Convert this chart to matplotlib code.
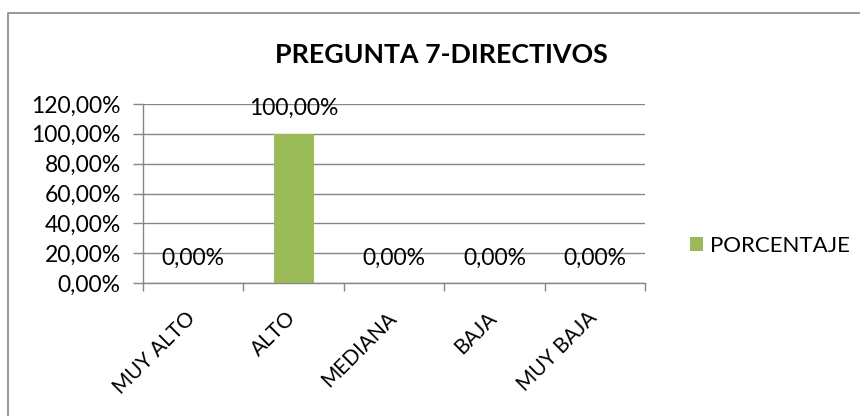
import matplotlib
matplotlib.use("Agg")
import matplotlib.pyplot as plt
from matplotlib.lines import Line2D
from matplotlib.transforms import ScaledTranslation
from matplotlib.ticker import FuncFormatter

categories = ["MUY ALTO", "ALTO", "MEDIANA", "BAJA", "MUY BAJA"]
values = [0.0, 100.0, 0.0, 0.0, 0.0]
series_name = "PORCENTAJE"
title = "PREGUNTA 7-DIRECTIVOS"
yticks = [0, 20, 40, 60, 80, 100, 120]

FONT = ["Lato", "DejaVu Sans"]
plt.rcParams["font.family"] = FONT

W, H = 860, 416
fig = plt.figure(figsize=(W / 100, H / 100), dpi=100)
fig.patch.set_facecolor("white")

# outer chart frame (left and top edges visible)
fx, fy = 7.5 / W, 1 - 12.5 / H
fig.add_artist(Line2D([fx, fx, 1.0], [0.0, fy, fy], transform=fig.transFigure,
                      color="#878787", linewidth=1.2))

ax = fig.add_axes([143 / W, 1 - 283 / H, (645 - 143) / W, (283 - 104) / H])
x = list(range(len(categories)))
green = "#9BBB59"
bars = ax.bar(x, values, width=0.4, color=green, label=series_name, zorder=3)

FS = 16.5
ax.set_xlim(-0.5, len(categories) - 0.5)
ax.set_ylim(0, 120)
ax.set_yticks(yticks)
ax.yaxis.set_major_formatter(FuncFormatter(lambda v, p: f"{v:.2f}%".replace(".", ",")))
ax.yaxis.grid(True, color="#868686", linewidth=1, zorder=0)
ax.set_axisbelow(True)

ax.set_xticks(x)
ax.set_xticklabels(categories, rotation=45, ha="right", rotation_mode="anchor",
                   fontsize=15)
ax.tick_params(axis="x", which="major", length=0, pad=18)
off = ScaledTranslation(-8 / 100, 0, fig.dpi_scale_trans)
for lab in ax.get_xticklabels():
    lab.set_transform(lab.get_transform() + off)
ax.set_xticks([i - 0.5 for i in range(len(categories) + 1)], minor=True)
ax.tick_params(axis="x", which="minor", length=6, color="#868686", width=1)
ax.tick_params(axis="y", length=7, color="#868686", width=1, labelsize=FS, pad=9)

for s in ["top", "right"]:
    ax.spines[s].set_visible(False)
for s in ["left", "bottom"]:
    ax.spines[s].set_color("#868686")
    ax.spines[s].set_linewidth(1)

for xi, v in zip(x, values):
    ax.annotate(f"{v:.2f}%".replace(".", ","), (xi, v), xytext=(0, 18),
                textcoords="offset points", ha="center", va="center", fontsize=FS)

fig.text(441 / W, 1 - 55 / H, title, ha="center", va="center",
         fontsize=19.3, fontweight="bold")

leg = fig.legend(handles=[bars], labels=[series_name], loc="center left",
                 bbox_to_anchor=(690 / W, 1 - 246 / H), frameon=False,
                 borderpad=0, borderaxespad=0,
                 fontsize=16, handlelength=0.6, handleheight=0.6, handletextpad=0.3)

fig.savefig("out.png", dpi=100)
